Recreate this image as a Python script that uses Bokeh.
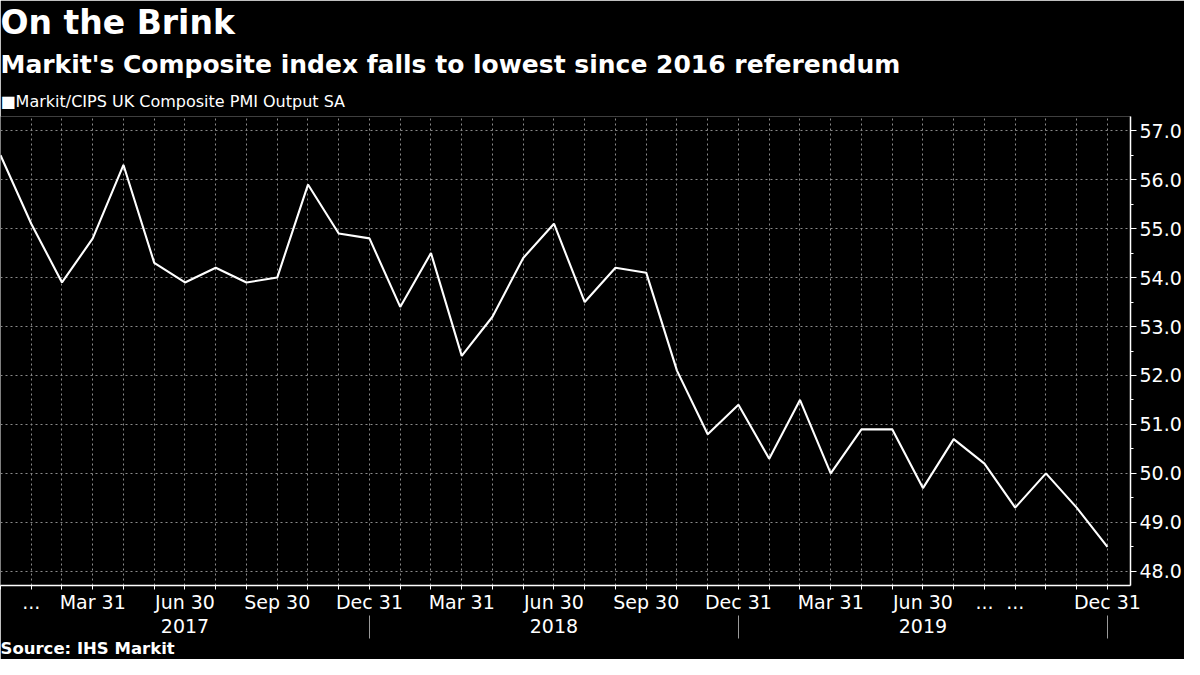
from bokeh.plotting import figure
from bokeh.models import (Range1d, FixedTicker, LinearAxis, Title, NumeralTickFormatter)
from bokeh.embed import file_html
from bokeh.resources import INLINE

# ---------------- data ----------------
month_ends = [
    "2016-12-31",
    "2017-01-31", "2017-02-28", "2017-03-31", "2017-04-30", "2017-05-31", "2017-06-30",
    "2017-07-31", "2017-08-31", "2017-09-30", "2017-10-31", "2017-11-30", "2017-12-31",
    "2018-01-31", "2018-02-28", "2018-03-31", "2018-04-30", "2018-05-31", "2018-06-30",
    "2018-07-31", "2018-08-31", "2018-09-30", "2018-10-31", "2018-11-30", "2018-12-31",
    "2019-01-31", "2019-02-28", "2019-03-31", "2019-04-30", "2019-05-31", "2019-06-30",
    "2019-07-31", "2019-08-31", "2019-09-30", "2019-10-31", "2019-11-30", "2019-12-31",
]
pmi = [
    56.5,
    55.1, 53.9, 54.8, 56.3, 54.3, 53.9, 54.2, 53.9, 54.0, 55.9, 54.9, 54.8,
    53.4, 54.5, 52.4, 53.2, 54.4, 55.1, 53.5, 54.2, 54.1, 52.1, 50.8, 51.4,
    50.3, 51.5, 50.0, 50.9, 50.9, 49.7, 50.7, 50.2, 49.3, 50.0, 49.3, 48.5,
]
month_tick_labels = {1: "...", 3: "Mar 31", 6: "Jun 30", 9: "Sep 30", 12: "Dec 31",
                     15: "Mar 31", 18: "Jun 30", 21: "Sep 30", 24: "Dec 31",
                     27: "Mar 31", 30: "Jun 30", 32: "...", 33: "...", 36: "Dec 31"}
year_labels = {6: "2017", 18: "2018", 30: "2019"}
year_bounds = [12, 24, 36]
y_ticks = [48, 49, 50, 51, 52, 53, 54, 55, 56, 57]
y_minor = [47.5, 48.5, 49.5, 50.5, 51.5, 52.5, 53.5, 54.5, 55.5, 56.5, 57.5]
series_name = "Markit/CIPS UK Composite PMI Output SA"
title_text = "On the Brink"
subtitle_text = "Markit's Composite index falls to lowest since 2016 referendum"
source_text = "Source: IHS Markit"

x = list(range(len(month_ends)))

FONT = "DejaVu Sans"
WHITE = "#ffffff"

p = figure(width=1184, height=659, title=None,
           x_range=Range1d(0, 36.75), y_range=Range1d(47.71, 57.29),
           y_axis_location="right", output_backend="svg", toolbar_location=None,
           background_fill_color="black", border_fill_color="black",
           outline_line_color=None, min_border_left=0, min_border_right=0,
           min_border_top=0, min_border_bottom=0)

line = p.line(x, pmi, line_color=WHITE, line_width=2.1, legend_label=series_name)
p.legend.visible = False

# month axis
xa = p.xaxis[0]
xa.ticker = FixedTicker(ticks=x, minor_ticks=[])
xa.major_label_overrides = {i: month_tick_labels.get(i, "") for i in x}
xa.axis_line_color = WHITE
xa.axis_line_width = 1.5
xa.major_tick_line_color = WHITE
xa.major_tick_out = 4
xa.major_tick_in = 0
xa.minor_tick_line_color = None
xa.major_label_standoff = 1
xa.major_label_text_font = FONT
xa.major_label_text_font_size = "19px"
xa.major_label_text_color = WHITE

# y axis (right)
ya = p.yaxis[0]
ya.ticker = FixedTicker(ticks=y_ticks, minor_ticks=y_minor)
ya.formatter = NumeralTickFormatter(format="0.0")
ya.axis_line_color = WHITE
ya.axis_line_width = 1.5
ya.major_tick_line_color = WHITE
ya.major_tick_out = 6
ya.major_tick_in = 0
ya.minor_tick_line_color = WHITE
ya.minor_tick_out = 3
ya.minor_tick_in = 0
ya.major_label_standoff = 3
ya.major_label_text_font = FONT
ya.major_label_text_font_size = "19px"
ya.major_label_text_color = WHITE

# grids
p.xgrid.ticker = FixedTicker(ticks=x)
p.ygrid.ticker = FixedTicker(ticks=y_ticks)
for g in (p.xgrid[0], p.ygrid[0]):
    g.grid_line_color = "#8a8a8a"
    g.grid_line_dash = "2 3"
    g.grid_line_width = 1

# year axis with separators
yr = LinearAxis(ticker=FixedTicker(ticks=list(year_labels.keys()), minor_ticks=year_bounds))
yr.major_label_overrides = year_labels
yr.axis_line_color = None
yr.major_tick_line_color = None
yr.major_tick_out = 0
yr.major_tick_in = 0
yr.minor_tick_line_color = "#9a9a9a"
yr.minor_tick_out = 23
yr.minor_tick_in = 0
yr.major_label_standoff = -20
yr.major_label_text_font = FONT
yr.major_label_text_font_size = "19px"
yr.major_label_text_color = WHITE
p.add_layout(yr, "below")

# source
p.add_layout(Title(text=source_text, align="left", text_font=FONT, text_font_style="bold",
                   text_font_size="16.5px", text_color=WHITE, standoff=3), "below")

# legend line + titles above the plot (added nearest-first)
p.add_layout(Title(text="\u25a0" + series_name, align="left", text_font=FONT,
                   text_font_style="normal",
                   text_font_size="16px", text_color=WHITE, standoff=11), "above")
p.add_layout(Title(text=subtitle_text, align="left", text_font=FONT, text_font_style="bold",
                   text_font_size="25px", text_color=WHITE, standoff=12), "above")
p.add_layout(Title(text=title_text, align="left", text_font=FONT, text_font_style="bold",
                   text_font_size="33px", text_color=WHITE, standoff=0), "above")

open("out.html", "w").write(file_html(p, INLINE))
